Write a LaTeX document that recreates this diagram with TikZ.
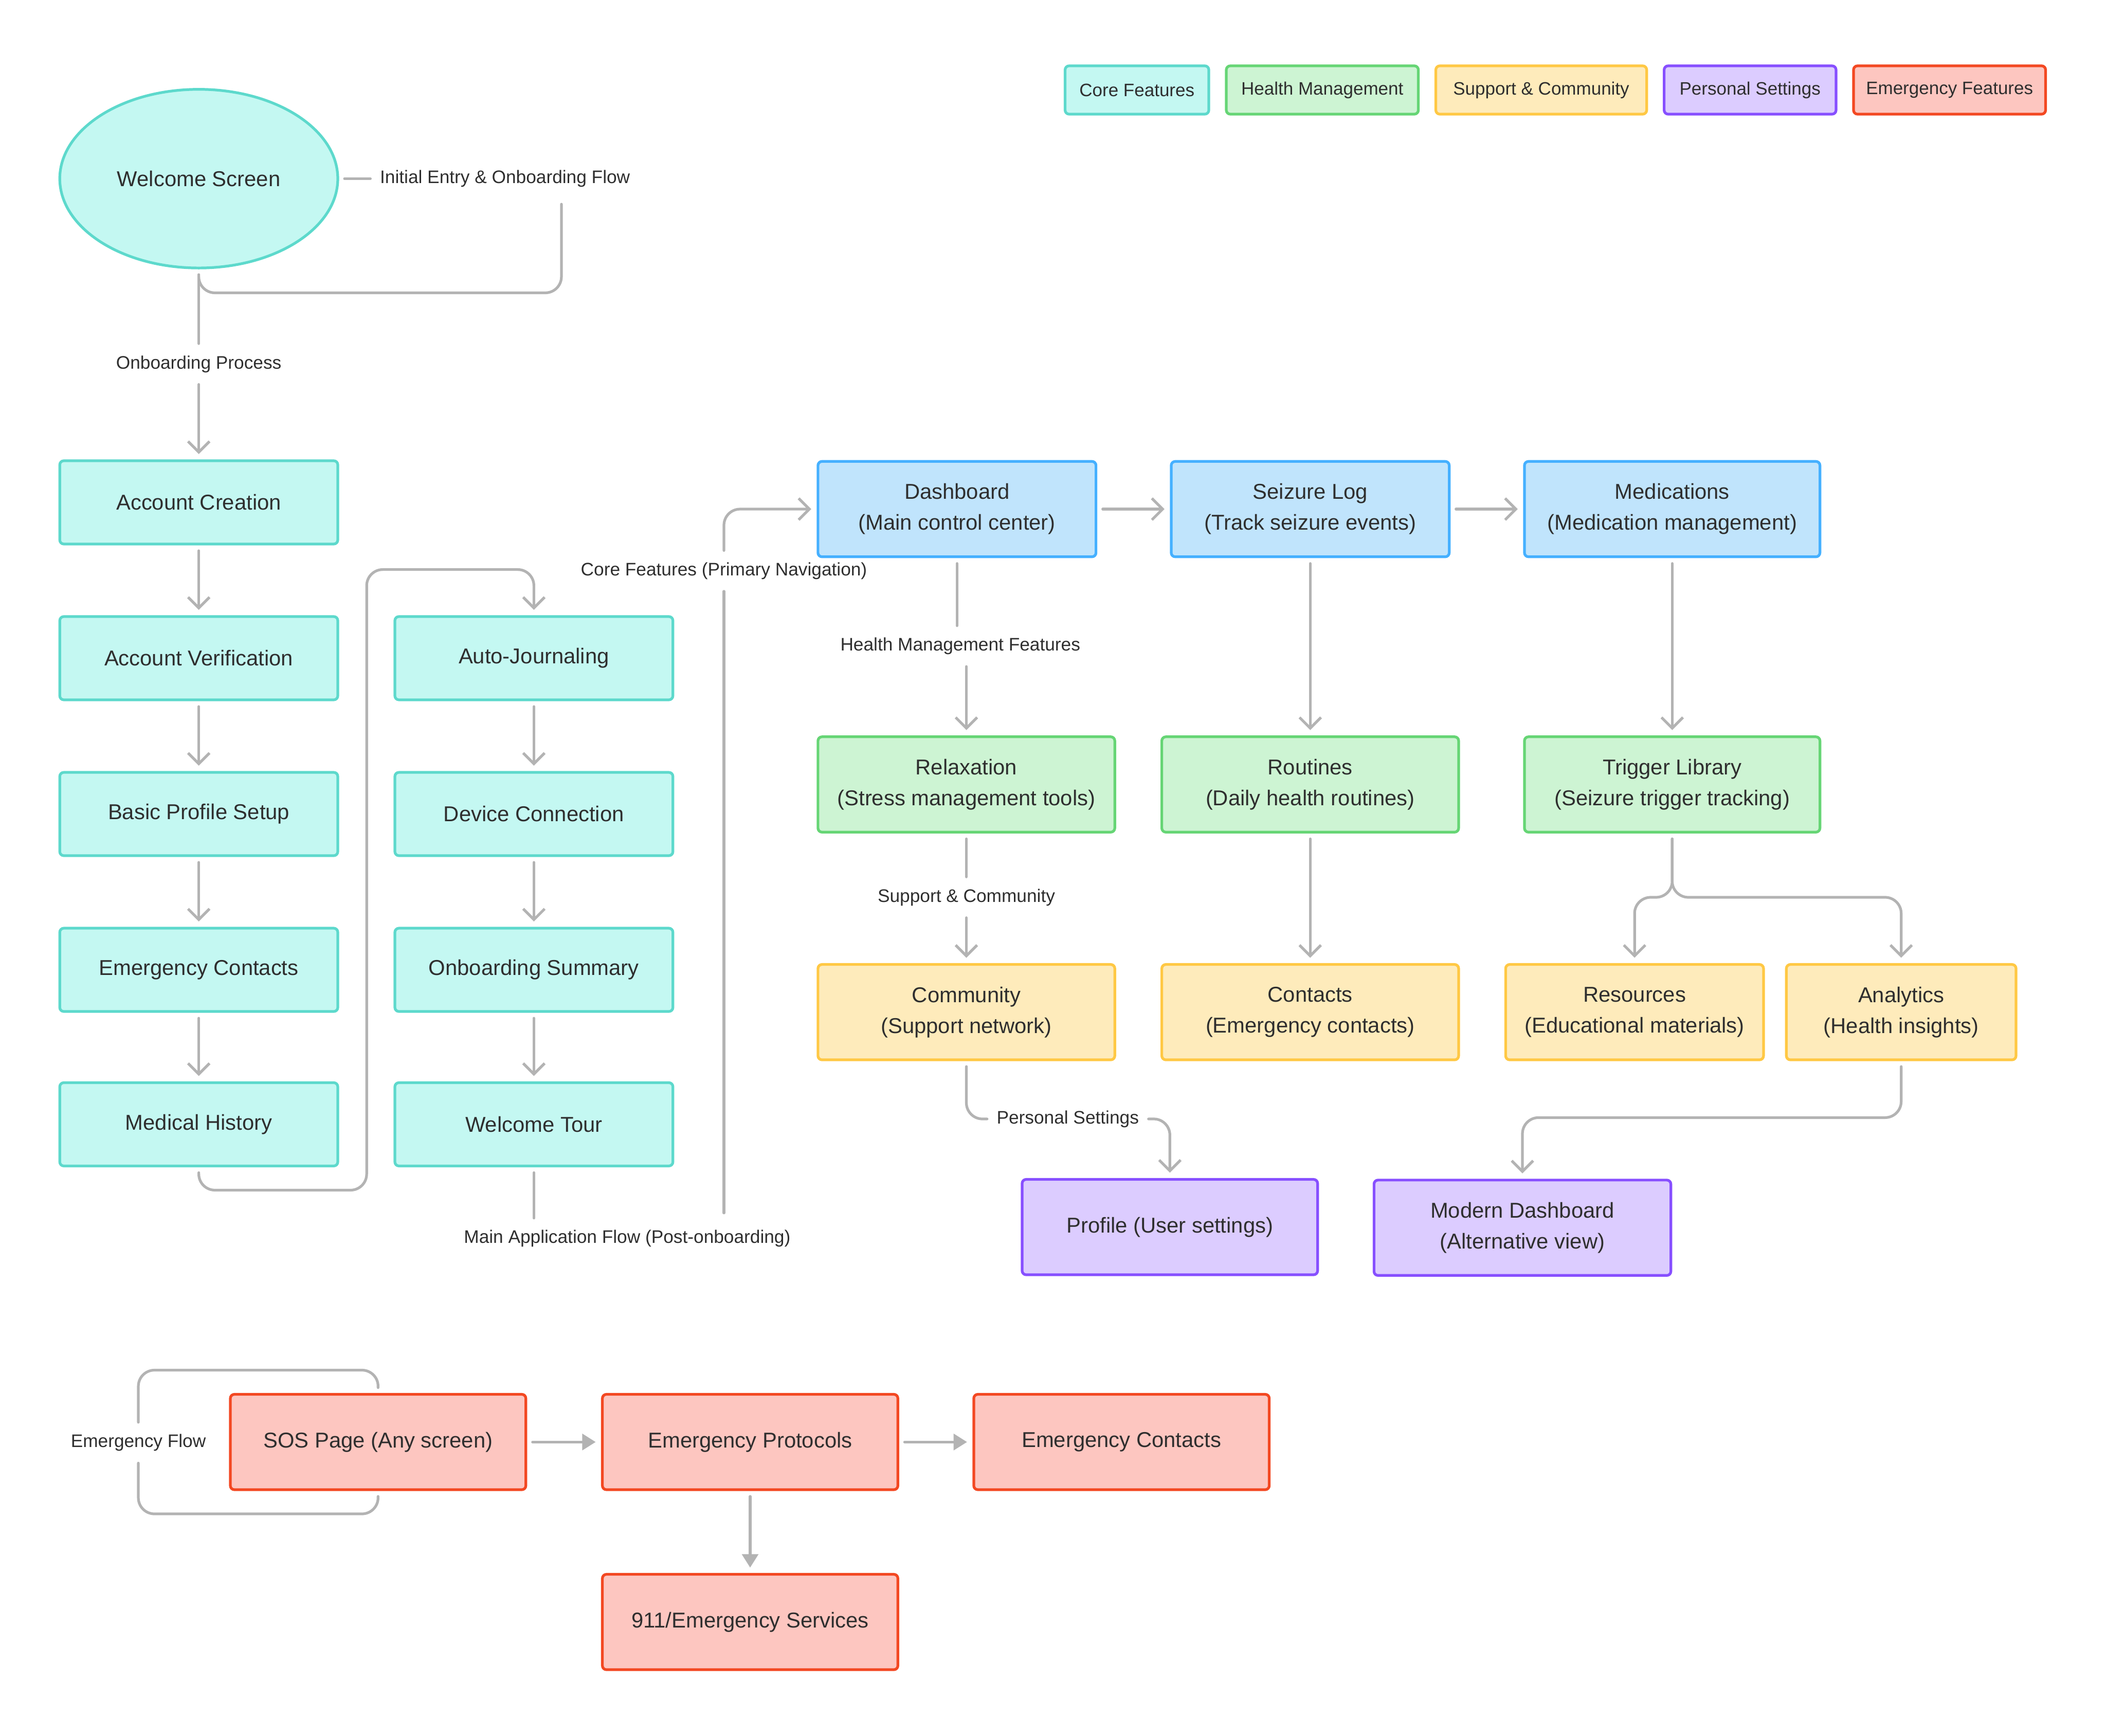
\documentclass[tikz,border=0pt]{standalone}
\usepackage{fontspec}
\setmainfont{Liberation Sans}
\usetikzlibrary{positioning,arrows.meta,shapes.geometric}

\definecolor{txt}{HTML}{2E2E2E}
\definecolor{edge}{HTML}{B3B3B3}
\definecolor{coreFill}{HTML}{C4F8F2}\definecolor{coreLine}{HTML}{5DD9CC}
\definecolor{mainFill}{HTML}{C0E4FC}\definecolor{mainLine}{HTML}{45B0FF}
\definecolor{healthFill}{HTML}{CDF4D3}\definecolor{healthLine}{HTML}{66D575}
\definecolor{supFill}{HTML}{FEEBBB}\definecolor{supLine}{HTML}{FFC844}
\definecolor{persFill}{HTML}{DCCCFF}\definecolor{persLine}{HTML}{874FFF}
\definecolor{emFill}{HTML}{FDC6C0}\definecolor{emLine}{HTML}{F34822}

\tikzset{
  box/.style={draw, line width=2pt, rounded corners=3pt, align=center, text=txt,
    font=\fontsize{16}{23}\selectfont, inner sep=0pt},
  core/.style={box, fill=coreFill, draw=coreLine, minimum width=207pt, minimum height=62pt},
  mainbox/.style={box, fill=mainFill, draw=mainLine, minimum height=71pt},
  healthbox/.style={box, fill=healthFill, draw=healthLine, minimum height=71pt},
  supbox/.style={box, fill=supFill, draw=supLine, minimum height=71pt},
  persbox/.style={box, fill=persFill, draw=persLine, minimum height=71pt},
  embox/.style={box, fill=emFill, draw=emLine, minimum height=71pt, minimum width=220pt},
  legend/.style={box, font=\fontsize{13.4}{15}\selectfont, minimum height=36pt},
  lbl/.style={text=txt, font=\fontsize{13.5}{15}\selectfont, inner xsep=3pt, inner ysep=0pt,
    minimum height=22pt},
  conn/.style={draw=edge, line width=2pt, line cap=round, shorten <=4pt, shorten >=4pt},
  arrow/.style={conn, -{Straight Barb[length=8pt,width=16pt]}},
  earrow/.style={conn, -{Triangle[length=10pt,width=12pt]}}
}

\begin{document}
\begin{tikzpicture}[x=1pt, y=-1pt]
  \useasboundingbox (0,0) rectangle (1568,1292);

  % Legend
  \foreach \nm/\x/\w/\f/\d/\lab in {core/846.5/107/coreFill/coreLine/Core Features,
      health/984.5/143/healthFill/healthLine/Health Management,
      sup/1147.5/157/supFill/supLine/Support \& Community,
      pers/1303/128/persFill/persLine/Personal Settings,
      em/1451.5/143/emFill/emLine/Emergency Features}
    \node[legend, fill=\f, draw=\d, minimum width=\w pt] (leg\nm) at (\x,67) {\lab};

  % Entry
  \node[draw=coreLine, fill=coreFill, line width=2pt, ellipse, minimum width=207pt,
    minimum height=133pt, text=txt, font=\fontsize{16}{23}\selectfont] (wel) at (148,133) {Welcome Screen};
  \node[lbl] (lInit) at (376,133) {Initial Entry \& Onboarding Flow};
  \node[lbl] (lOnb) at (148,271) {Onboarding Process};
  \coordinate (initR) at (418,148);

  % Onboarding columns
  \foreach \n/\y/\t in {acc/374/Account Creation, ver/490/Account Verification,
      basic/606/Basic Profile Setup, emc/722/Emergency Contacts, med/837/Medical History}
    \node[core] (\n) at (148,\y) {\t};
  \foreach \n/\y/\t in {auto/490/Auto-Journaling, dev/606/Device Connection,
      summ/722/Onboarding Summary, tour/837/Welcome Tour}
    \node[core] (\n) at (397.5,\y) {\t};
  \node[lbl] (lMain) at (467,922) {Main Application Flow (Post-onboarding)};
  \node[lbl] (lCore) at (539,425) {Core Features (Primary Navigation)};
  \coordinate (mainR) at (539,907);

  % Main features
  \node[mainbox, minimum width=207pt] (dash) at (712.5,379) {Dashboard\\(Main control center)};
  \node[mainbox, minimum width=207pt] (seiz) at (975.5,379) {Seizure Log\\(Track seizure events)};
  \node[mainbox, minimum width=220pt] (meds) at (1245,379) {Medications\\(Medication management)};
  \node[lbl] (lHealth) at (715,481) {Health Management Features};

  \node[healthbox, minimum width=221pt] (relax) at (719.5,584) {Relaxation\\(Stress management tools)};
  \node[healthbox, minimum width=221pt] (rout) at (975.5,584) {Routines\\(Daily health routines)};
  \node[healthbox, minimum width=220pt] (trig) at (1245,584) {Trigger Library\\(Seizure trigger tracking)};
  \node[lbl] (lSup) at (719.5,668) {Support \& Community};

  \node[supbox, minimum width=221pt] (comm) at (719.5,753.5) {Community\\(Support network)};
  \node[supbox, minimum width=221pt] (cont) at (975.5,753.5) {Contacts\\(Emergency contacts)};
  \node[supbox, minimum width=192pt] (res) at (1217,753.5) {Resources\\(Educational materials)};
  \node[supbox, minimum width=171pt] (ana) at (1415.5,753.5) {Analytics\\(Health insights)};
  \node[lbl] (lPers) at (795,833) {Personal Settings};

  \node[persbox, minimum width=220pt] (user) at (871,913.5) {Profile (User settings)};
  \node[persbox, minimum width=221pt] (mdash) at (1133.5,914) {Modern Dashboard\\(Alternative view)};

  % Emergency
  \node[lbl] (lEm) at (103,1074) {Emergency Flow};
  \node[embox] (sos) at (281.5,1073.5) {SOS Page (Any screen)};
  \node[embox] (prot) at (558.5,1073.5) {Emergency Protocols};
  \node[embox] (econ) at (835,1073.5) {Emergency Contacts};
  \node[embox] (svc) at (558.5,1207.5) {911/Emergency Services};

  % Entry connectors
  \draw[conn] (wel.east) -- (lInit.west);
  \draw[conn, rounded corners=12pt] (wel.south) -- (148,218) -- (418,218) -- (initR);
  \draw[conn] (wel.south) -- (lOnb.north);
  \draw[arrow] (lOnb.south) -- (acc.north);

  % Onboarding connectors
  \foreach \a/\b in {acc/ver, ver/basic, basic/emc, emc/med, auto/dev, dev/summ, summ/tour}
    \draw[arrow] (\a) -- (\b);
  \draw[arrow, rounded corners=12pt] (med.south) -- (148,886) -- (273,886) -- (273,424)
    -- (397.5,424) -- (auto.north);
  \draw[conn] (tour.south) -- (tour.south |- lMain.north);
  \draw[conn] (mainR) -- (lCore.south);
  \draw[arrow, rounded corners=12pt] (lCore.north) -- (539,379) -- (dash.west);

  % Feature connectors
  \draw[arrow] (dash) -- (seiz);
  \draw[arrow] (seiz) -- (meds);
  \draw[conn] (dash.south) -- (dash.south |- lHealth.north);
  \draw[arrow] (lHealth.south -| relax.north) -- (relax.north);
  \draw[arrow] (seiz) -- (rout);
  \draw[arrow] (meds) -- (trig);
  \draw[conn] (relax.south) -- (lSup.north);
  \draw[arrow] (lSup.south) -- (comm.north);
  \draw[arrow] (rout) -- (cont);
  \draw[arrow, rounded corners=12pt] (trig.south) -- (1245,668) -- (1217,668) -- (res.north);
  \draw[arrow, rounded corners=12pt] (trig.south) -- (1245,668) -- (1415.5,668) -- (ana.north);
  \draw[conn, rounded corners=12pt] (comm.south) -- (719.5,833) -- (lPers.west);
  \draw[arrow, rounded corners=12pt] (lPers.east) -- (871,833) -- (user.north);
  \draw[arrow, rounded corners=12pt] (ana.south) -- (1415.5,832) -- (1133.5,832) -- (mdash.north);

  % Emergency connectors
  \draw[conn, rounded corners=12pt] (lEm.north) -- (103,1020) -- (281.5,1020) -- (sos.north);
  \draw[conn, rounded corners=12pt] (lEm.south) -- (103,1127) -- (281.5,1127) -- (sos.south);
  \draw[earrow] (sos) -- (prot);
  \draw[earrow] (prot) -- (econ);
  \draw[earrow] (prot) -- (svc);
\end{tikzpicture}
\end{document}
